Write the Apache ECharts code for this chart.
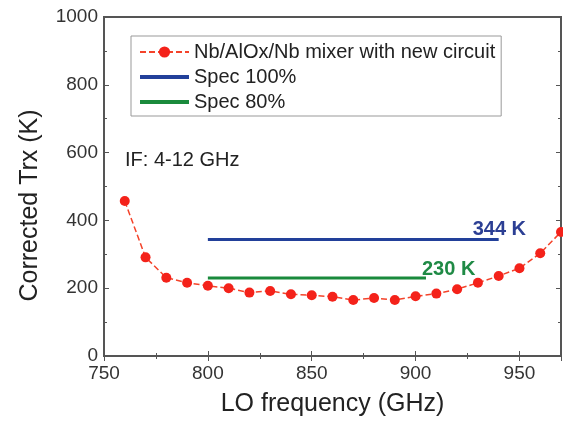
<!DOCTYPE html>
<html>
<head>
<meta charset="utf-8">
<script src="https://cdn.jsdelivr.net/npm/echarts@6/dist/echarts.min.js"></script>
<style>
  html, body { margin: 0; padding: 0; background: #fff; }
  #chart { width: 563px; height: 425px; }
</style>
</head>
<body>
<div id="chart"></div>
<script>
// LO frequency (GHz) and corrected receiver temperature (K)
var freq = [760, 770, 780, 790, 800, 810, 820, 830, 840, 850, 860, 870, 880, 890, 900, 910, 920, 930, 940, 950, 960, 970];
var trx = [457, 291, 231, 216, 207, 200, 187, 192, 182, 179, 175, 165, 171, 165, 176, 184, 197, 216, 236, 259, 303, 366];
var spec100 = [[800, 344], [940, 344]];
var spec80 = [[800, 230], [905, 230]];

(function(){
  var myChart = echarts.init(document.getElementById('chart'));
  var font = 'Liberation Sans, Arial, sans-serif';
  var axisLine = { lineStyle: { color: '#555', width: 2 } };
  var tick = { inside: true, length: 5, lineStyle: { color: '#555' } };
  var minor = { show: true, splitNumber: 2, length: 3, lineStyle: { color: '#555' } };
  var option = {
    animation: false,
    grid: {
      left: 104, right: 2, top: 17, bottom: 69,
      show: true, borderColor: '#555', borderWidth: 2
    },
    legend: {
      left: 131, top: 36,
      orient: 'vertical',
      itemWidth: 49, itemHeight: 14, itemGap: 5,
      padding: [6, 6, 4, 7],
      borderColor: '#999', borderWidth: 1,
      textStyle: { fontFamily: font, fontSize: 20, color: '#222' },
      data: [
        { name: 'Nb/AlOx/Nb mixer with new circuit' },
        { name: 'Spec 100%', itemStyle: { opacity: 0 }, lineStyle: { width: 4 } },
        { name: 'Spec 80%', itemStyle: { opacity: 0 }, lineStyle: { width: 4 } }
      ]
    },
    graphic: [{
      type: 'text', left: 125, top: 150,
      style: { text: 'IF: 4-12 GHz', font: '20px ' + font, fill: '#222' }
    }],
    xAxis: [{
      type: 'value', min: 750, max: 970, interval: 50,
      name: 'LO frequency (GHz)', nameLocation: 'middle', nameGap: 36,
      nameTextStyle: { fontFamily: font, fontSize: 25, color: '#222' },
      axisLine: axisLine, axisTick: tick, minorTick: minor,
      axisLabel: { fontFamily: font, fontSize: 19, color: '#333', margin: 8,
        showMaxLabel: false },
      splitLine: { show: false }
    }, {
      type: 'value', position: 'top', min: 750, max: 970, interval: 50,
      axisLine: axisLine, axisTick: tick, minorTick: minor,
      axisLabel: { show: false },
      splitLine: { show: false }
    }],
    yAxis: [{
      type: 'value', min: 0, max: 1000, interval: 200,
      name: 'Corrected Trx (K)', nameLocation: 'middle', nameGap: 61,
      nameTextStyle: { fontFamily: font, fontSize: 25, color: '#222', padding: [0, 38, 0, 0] },
      axisLine: axisLine, axisTick: tick, minorTick: minor,
      axisLabel: { fontFamily: font, fontSize: 19, color: '#333', margin: 6,
        formatter: function (v) { return String(v); } },
      splitLine: { show: false }
    }, {
      type: 'value', position: 'right', min: 0, max: 1000, interval: 200,
      axisLine: axisLine, axisTick: tick, minorTick: minor,
      axisLabel: { show: false },
      splitLine: { show: false }
    }],
    series: [
      {
        name: 'Nb/AlOx/Nb mixer with new circuit',
        type: 'line',
        data: freq.map(function (f, i) { return [f, trx[i]]; }),
        symbol: 'circle', symbolSize: 10,
        itemStyle: { color: '#f4221a' },
        lineStyle: { color: '#f4432a', width: 1.5, type: [6, 3] },
        z: 5
      },
      {
        name: 'Spec 100%',
        type: 'line',
        data: spec100,
        symbol: 'none',
        lineStyle: { color: '#22409a', width: 3 },
        itemStyle: { color: '#22409a' },
        endLabel: { show: true, formatter: '344 K', offset: [-34, -10],
          fontFamily: font, fontSize: 20, fontWeight: 'bold', color: '#2c3f94' }
      },
      {
        name: 'Spec 80%',
        type: 'line',
        data: spec80,
        symbol: 'none',
        lineStyle: { color: '#1a8a3c', width: 3 },
        itemStyle: { color: '#1a8a3c' },
        endLabel: { show: true, formatter: '230 K', offset: [-12, -9],
          fontFamily: font, fontSize: 20, fontWeight: 'bold', color: '#1f8a45' }
      }
    ]
  };
  myChart.setOption(option);
  window.addEventListener('resize', function () {
    myChart.resize();
  });
})();
</script>
</body>
</html>
